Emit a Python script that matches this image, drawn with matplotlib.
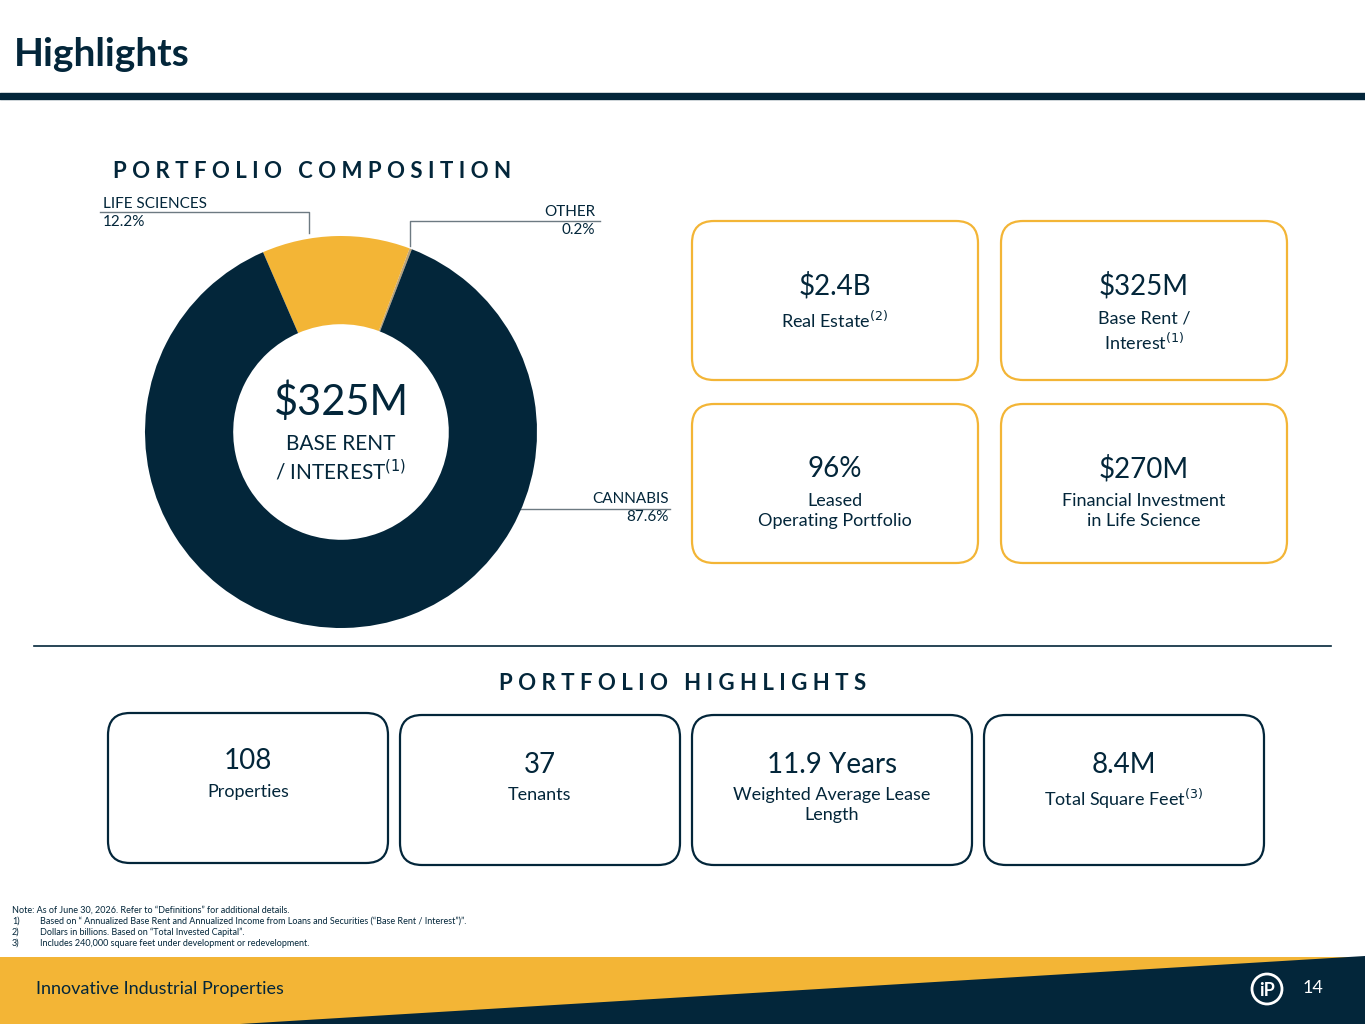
import matplotlib.pyplot as plt
from matplotlib.patches import FancyBboxPatch, Polygon, Circle

NAVY = "#03263a"
GOLD = "#f3b536"
plt.rcParams['font.family'] = ['Lato', 'DejaVu Sans']

# data
segments = ["OTHER", "LIFE SCIENCES", "CANNABIS"]
shares = [0.2, 12.2, 87.6]
seg_colors = ["#b9a27a", GOLD, NAVY]

top_boxes = [("$2.4B", "Real Estate$^{(2)}$"), ("$325M", "Base Rent /\nInterest$^{(1)}$"),
             ("96%", "Leased\nOperating Portfolio"), ("$270M", "Financial Investment\nin Life Science")]
bottom_boxes = [("108", "Properties"), ("37", "Tenants"),
                ("11.9 Years", "Weighted Average Lease\nLength"), ("8.4M", "Total Square Feet$^{(3)}$")]
notes = ["Note: As of June 30, 2026. Refer to \u201cDefinitions\u201d for additional details.",
         "1)\tBased on \u201c Annualized Base Rent and Annualized Income from Loans and Securities (\u201cBase Rent / Interest\u201d)\u201d.",
         "2)\tDollars in billions. Based on \u201cTotal Invested Capital\u201d.",
         "3)\tIncludes 240,000 square feet under development or redevelopment."]

fig = plt.figure(figsize=(13.65, 10.24), dpi=100)
ax = fig.add_axes([0, 0, 1, 1])
ax.set_xlim(0, 1365)
ax.set_ylim(1024, 0)
ax.axis('off')

ax.text(14, 55, "Highlights", fontsize=28, fontweight='bold', color=NAVY, va='center')
ax.fill_between([0, 1365], 93, 99, color=NAVY)

ax.text(312, 172, "P O R T F O L I O   C O M P O S I T I O N", fontsize=16, fontweight='bold',
        color=NAVY, ha='center', va='center')

# donut
dax = fig.add_axes([(341 - 196) / 1365, 1 - (432 + 196) / 1024, 392 / 1365, 392 / 1024])
dax.pie(shares, colors=seg_colors, startangle=68.8, counterclock=True,
        wedgeprops=dict(width=0.45, edgecolor='none'))
dax.set_aspect('equal')
dax.set_xlim(-1, 1)
dax.set_ylim(-1, 1)

ax.text(341, 402, "$325M", fontsize=30, color=NAVY, ha='center', va='center')
ax.text(341, 444, "BASE RENT", fontsize=15, color=NAVY, ha='center', va='center')
ax.text(341, 471, "/ INTEREST$^{(1)}$", fontsize=15, color=NAVY, ha='center', va='center')

# leader labels
ax.plot([100, 309, 309], [212, 212, 233], color="#6d7a82", lw=1)
ax.text(103, 204, segments[1], fontsize=11, color=NAVY, va='center')
ax.text(103, 222, f"{shares[1]}%", fontsize=11, color=NAVY, va='center')
ax.plot([410, 410, 600], [246, 221, 221], color="#6d7a82", lw=1)
ax.text(595, 212, segments[0], fontsize=11, color=NAVY, va='center', ha='right')
ax.text(595, 230, f"{shares[0]}%", fontsize=11, color=NAVY, va='center', ha='right')
ax.plot([505, 670], [509, 509], color="#6d7a82", lw=1)
ax.text(669, 499, segments[2], fontsize=11, color=NAVY, va='center', ha='right')
ax.text(669, 517, f"{shares[2]}%", fontsize=11, color=NAVY, va='center', ha='right')

def box(x, y, w, h, ec, big, small, big_y, small_y):
    ax.add_patch(FancyBboxPatch((x, y), w, h, boxstyle="round,pad=0,rounding_size=22",
                                fc='white', ec=ec, lw=1.6))
    ax.text(x + w / 2, big_y, big, fontsize=20, color=NAVY, ha='center', va='center')
    ax.text(x + w / 2, small_y, small, fontsize=13, color=NAVY, ha='center', va='top',
            linespacing=1.3)

pos = [(692, 221), (1001, 221), (692, 404), (1001, 404)]
for (x, y), (b, s) in zip(pos, top_boxes):
    box(x, y, 286, 159, GOLD, b, s, y + 65, y + 89)

ax.plot([34, 1331], [646, 646], color=NAVY, lw=1.2)
ax.text(683, 683, "P O R T F O L I O   H I G H L I G H T S", fontsize=16, fontweight='bold',
        color=NAVY, ha='center', va='center')

for i, (b, s) in enumerate(bottom_boxes):
    x = 108 + i * 292
    y = 713 if i == 0 else 715
    box(x, y, 280, 150, NAVY, b, s, y + 50 if i else y + 48, y + 72 if i else y + 71)

for i, n in enumerate(notes):
    if i == 0:
        ax.text(12, 910, n, fontsize=6.5, color=NAVY, va='center')
    else:
        num, t = n.split("\t")
        ax.text(12, 910 + i * 11, num, fontsize=6.5, color=NAVY, va='center')
        ax.text(40, 910 + i * 11, t, fontsize=6.5, color=NAVY, va='center')

# footer
ax.add_patch(Polygon([(0, 957), (1365, 957), (1365, 1024), (0, 1024)], color=GOLD, lw=0))
ax.add_patch(Polygon([(240, 1024), (1365, 956), (1365, 1024)], color=NAVY, lw=0))
ax.text(36, 989, "Innovative Industrial Properties", fontsize=13, color=NAVY, va='center')
ax.add_patch(Circle((1267, 989), 15, fc='none', ec='white', lw=2))
ax.text(1267, 990, "iP", fontsize=13, fontweight='bold', color='white', ha='center', va='center')
ax.text(1313, 988, "14", fontsize=13, color='white', ha='center', va='center')

fig.savefig("out.png", dpi=100)
